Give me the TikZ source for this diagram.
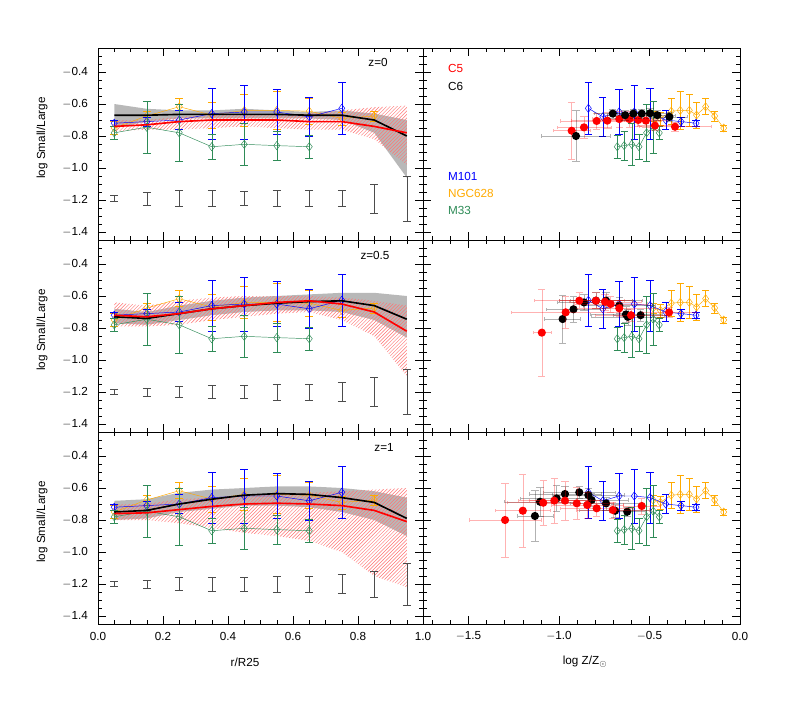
\documentclass[tikz,border=0pt]{standalone}
\usepackage{fontspec}
\setmainfont{Liberation Sans}
\usetikzlibrary{patterns,plotmarks}
\definecolor{morange}{RGB}{255,170,0}
\definecolor{mgreen}{RGB}{46,139,87}
\newcommand\ebars[2]{\foreach \x/\v/\e in {#2}{\draw[#1] (\x,\v-\e)--(\x,\v+\e) (\x-0.012,\v-\e)--(\x+0.012,\v-\e) (\x-0.012,\v+\e)--(\x+0.012,\v+\e);}}
\newcommand\ebarsR[2]{\foreach \x/\v/\e in {#2}{\draw[#1] (\x,\v-\e)--(\x,\v+\e) (\x-0.02,\v-\e)--(\x+0.02,\v-\e) (\x-0.02,\v+\e)--(\x+0.02,\v+\e);}}
\newcommand\obsL{%
 \ebars{morange,thin}{0.05/-0.75/0.04,0.15/-0.675/0.03,0.25/-0.617/0.05,0.35/-0.669/0.08,0.45/-0.64/0.1,0.55/-0.64/0.12,0.65/-0.645/0.08,0.75/-0.69/0.04,0.85/-0.675/0.03}
 \draw[morange,thin] plot[mark=diamond,mark size=3.5pt] coordinates{(0.05,-0.75)(0.15,-0.675)(0.25,-0.617)(0.35,-0.669)(0.45,-0.64)(0.55,-0.64)(0.65,-0.645)(0.75,-0.69)(0.85,-0.675)};
 \ebars{blue,thin}{0.05/-0.72/0.02,0.15/-0.71/0.03,0.25/-0.70/0.06,0.35/-0.66/0.16,0.45/-0.65/0.17,0.55/-0.65/0.14,0.65/-0.68/0.12,0.75/-0.627/0.16}
 \draw[blue,thin] plot[mark=diamond,mark size=3.5pt] coordinates{(0.05,-0.72)(0.15,-0.71)(0.25,-0.70)(0.35,-0.66)(0.45,-0.65)(0.55,-0.65)(0.65,-0.68)(0.75,-0.627)};
 \ebars{mgreen,thin}{0.05/-0.78/0.04,0.15/-0.745/0.16,0.25/-0.78/0.18,0.35/-0.867/0.08,0.45/-0.852/0.13,0.55/-0.86/0.09,0.65/-0.867/0.07}
 \draw[mgreen,thin] plot[mark=diamond,mark size=3.5pt] coordinates{(0.05,-0.78)(0.15,-0.745)(0.25,-0.78)(0.35,-0.867)(0.45,-0.852)(0.55,-0.86)(0.65,-0.867)};
}
\newcommand\obsR{%
 \ebarsR{morange,thin}{-0.48/-0.675/0.03,-0.44/-0.69/0.04,-0.38/-0.645/0.08,-0.33/-0.64/0.12,-0.28/-0.64/0.1,-0.24/-0.669/0.08,-0.19/-0.617/0.05,-0.14/-0.675/0.03,-0.09/-0.75/0.02}
 \draw[morange,thin] plot[mark=diamond,mark size=3.5pt] coordinates{(-0.48,-0.675)(-0.44,-0.69)(-0.38,-0.645)(-0.33,-0.64)(-0.28,-0.64)(-0.24,-0.669)(-0.19,-0.617)(-0.14,-0.675)(-0.09,-0.75)};
 \ebarsR{blue,thin}{-0.838/-0.627/0.16,-0.758/-0.68/0.12,-0.668/-0.65/0.14,-0.584/-0.65/0.17,-0.497/-0.66/0.16,-0.41/-0.70/0.06,-0.326/-0.71/0.03,-0.243/-0.72/0.02}
 \draw[blue,thin] plot[mark=diamond,mark size=3.5pt] coordinates{(-0.838,-0.627)(-0.758,-0.68)(-0.668,-0.65)(-0.584,-0.65)(-0.497,-0.66)(-0.41,-0.70)(-0.326,-0.71)(-0.243,-0.72)};
 \ebarsR{mgreen,thin}{-0.678/-0.867/0.07,-0.64/-0.86/0.09,-0.598/-0.852/0.13,-0.558/-0.867/0.08,-0.516/-0.78/0.18,-0.479/-0.745/0.16,-0.446/-0.78/0.04}
 \draw[mgreen,thin] plot[mark=diamond,mark size=3.5pt] coordinates{(-0.678,-0.867)(-0.64,-0.86)(-0.598,-0.852)(-0.558,-0.867)(-0.516,-0.78)(-0.479,-0.745)(-0.446,-0.78)};
}
% z/v/ex/ey
\newcommand\simpts[2]{%
 \foreach \x/\v/\ex/\ey in {#2}{\draw[#1,opacity=0.3,thin] (\x-\ex,\v)--(\x+\ex,\v) (\x,\v-\ey)--(\x,\v+\ey) (\x-\ex,\v-0.01)--(\x-\ex,\v+0.01) (\x+\ex,\v-0.01)--(\x+\ex,\v+0.01) (\x-0.02,\v-\ey)--(\x+0.02,\v-\ey) (\x-0.02,\v+\ey)--(\x+0.02,\v+\ey);}
 \foreach \x/\v/\ex/\ey in {#2}{\node[circle,fill=#1,inner sep=0pt,minimum size=7pt] at (\x,\v) {};}
}
\tikzset{ghatch/.style={pattern=north east lines,pattern color=red!55},
 gband/.style={fill=black!28},
 tl/.style={font=\fontsize{10}{12}\selectfont}}
\begin{document}
\begin{tikzpicture}[x=0.3mm,y=0.3mm]
\useasboundingbox (0,0) rectangle (789,-711);
% ---------- top left
\begin{scope}[shift={(98,-8)},x={(97.5mm,0)},y={(0,48mm)}]
\fill[gband] (0.05,-0.60)--(0.15,-0.63)--(0.25,-0.64)--(0.35,-0.64)--(0.45,-0.63)--(0.55,-0.64)--(0.65,-0.65)--(0.75,-0.64)--(0.85,-0.66)--(0.95,-0.70)--(0.95,-1.06)--(0.85,-0.78)--(0.75,-0.70)--(0.65,-0.69)--(0.55,-0.69)--(0.45,-0.69)--(0.35,-0.69)--(0.25,-0.69)--(0.15,-0.71)--(0.05,-0.75)--cycle;
\fill[ghatch] (0.05,-0.70)--(0.15,-0.70)--(0.25,-0.68)--(0.35,-0.67)--(0.45,-0.67)--(0.55,-0.67)--(0.65,-0.66)--(0.75,-0.64)--(0.85,-0.62)--(0.95,-0.61)--(0.95,-0.98)--(0.85,-0.82)--(0.75,-0.76)--(0.65,-0.76)--(0.55,-0.75)--(0.45,-0.74)--(0.35,-0.75)--(0.25,-0.76)--(0.15,-0.76)--(0.05,-0.77)--cycle;
\obsL
\draw[black,line width=1.4pt] (0.05,-0.67)--(0.15,-0.67)--(0.25,-0.665)--(0.35,-0.665)--(0.45,-0.665)--(0.55,-0.665)--(0.65,-0.67)--(0.75,-0.67)--(0.85,-0.70)--(0.95,-0.80);
\draw[red,line width=1.4pt] (0.05,-0.74)--(0.15,-0.73)--(0.25,-0.71)--(0.35,-0.70)--(0.45,-0.70)--(0.55,-0.70)--(0.65,-0.71)--(0.75,-0.71)--(0.85,-0.74)--(0.95,-0.78);
\ebars{black!70}{0.05/-1.19/0.02,0.15/-1.19/0.04,0.25/-1.19/0.05,0.35/-1.19/0.05,0.45/-1.19/0.045,0.55/-1.19/0.05,0.65/-1.19/0.05,0.75/-1.19/0.05,0.85/-1.19/0.09,0.95/-1.19/0.14}
\end{scope}
% ---------- middle left
\begin{scope}[shift={(98,-200)},x={(97.5mm,0)},y={(0,48mm)}]
\fill[gband] (0.05,-0.68)--(0.15,-0.70)--(0.25,-0.66)--(0.35,-0.63)--(0.45,-0.61)--(0.55,-0.60)--(0.65,-0.59)--(0.75,-0.58)--(0.85,-0.58)--(0.95,-0.60)--(0.95,-0.86)--(0.85,-0.75)--(0.75,-0.70)--(0.65,-0.69)--(0.55,-0.69)--(0.45,-0.70)--(0.35,-0.72)--(0.25,-0.75)--(0.15,-0.78)--(0.05,-0.77)--cycle;
\fill[ghatch] (0.05,-0.64)--(0.15,-0.66)--(0.25,-0.63)--(0.35,-0.61)--(0.45,-0.60)--(0.55,-0.60)--(0.65,-0.60)--(0.75,-0.61)--(0.85,-0.63)--(0.95,-0.66)--(0.95,-1.10)--(0.85,-0.85)--(0.75,-0.75)--(0.65,-0.70)--(0.55,-0.71)--(0.45,-0.73)--(0.35,-0.75)--(0.25,-0.78)--(0.15,-0.79)--(0.05,-0.79)--cycle;
\obsL
\draw[black,line width=1.4pt] (0.05,-0.73)--(0.15,-0.74)--(0.25,-0.71)--(0.35,-0.68)--(0.45,-0.66)--(0.55,-0.645)--(0.65,-0.635)--(0.75,-0.63)--(0.85,-0.66)--(0.95,-0.745);
\draw[red,line width=1.4pt] (0.05,-0.72)--(0.15,-0.73)--(0.25,-0.71)--(0.35,-0.68)--(0.45,-0.66)--(0.55,-0.64)--(0.65,-0.63)--(0.75,-0.65)--(0.85,-0.70)--(0.95,-0.82);
\ebars{black!70}{0.05/-1.2/0.015,0.15/-1.2/0.025,0.25/-1.2/0.035,0.35/-1.2/0.04,0.45/-1.2/0.04,0.55/-1.2/0.05,0.65/-1.2/0.05,0.75/-1.2/0.06,0.85/-1.2/0.09,0.95/-1.2/0.14}
\end{scope}
% ---------- bottom left
\begin{scope}[shift={(98,-392)},x={(97.5mm,0)},y={(0,48mm)}]
\fill[gband] (0.05,-0.68)--(0.15,-0.67)--(0.25,-0.63)--(0.35,-0.61)--(0.45,-0.60)--(0.55,-0.59)--(0.65,-0.59)--(0.75,-0.60)--(0.85,-0.62)--(0.95,-0.66)--(0.95,-0.90)--(0.85,-0.80)--(0.75,-0.75)--(0.65,-0.72)--(0.55,-0.71)--(0.45,-0.71)--(0.35,-0.73)--(0.25,-0.75)--(0.15,-0.79)--(0.05,-0.80)--cycle;
\fill[ghatch] (0.05,-0.70)--(0.15,-0.70)--(0.25,-0.67)--(0.35,-0.66)--(0.45,-0.65)--(0.55,-0.64)--(0.65,-0.63)--(0.75,-0.62)--(0.85,-0.61)--(0.95,-0.60)--(0.95,-1.22)--(0.85,-1.15)--(0.75,-1.0)--(0.65,-0.93)--(0.55,-0.90)--(0.45,-0.88)--(0.35,-0.85)--(0.25,-0.82)--(0.15,-0.80)--(0.05,-0.80)--cycle;
\obsL
\draw[black,line width=1.4pt] (0.05,-0.75)--(0.15,-0.74)--(0.25,-0.70)--(0.35,-0.67)--(0.45,-0.645)--(0.55,-0.635)--(0.65,-0.64)--(0.75,-0.66)--(0.85,-0.69)--(0.95,-0.79);
\draw[red,line width=1.4pt] (0.05,-0.76)--(0.15,-0.755)--(0.25,-0.735)--(0.35,-0.715)--(0.45,-0.70)--(0.55,-0.695)--(0.65,-0.70)--(0.75,-0.71)--(0.85,-0.74)--(0.95,-0.81);
\ebars{black!70}{0.05/-1.2/0.015,0.15/-1.2/0.025,0.25/-1.2/0.04,0.35/-1.2/0.045,0.45/-1.2/0.045,0.55/-1.2/0.05,0.65/-1.2/0.05,0.75/-1.2/0.06,0.85/-1.2/0.08,0.95/-1.2/0.13}
\end{scope}
% ---------- right panels
\begin{scope}[shift={(740,-8)},x={(54.3mm,0)},y={(0,48mm)}]
\obsR
\simpts{red}{-0.93/-0.767/0.1/0.18,-0.862/-0.746/0.15/0.07,-0.792/-0.706/0.2/0.05,-0.733/-0.704/0.2/0.05,-0.667/-0.694/0.15/0.05,-0.611/-0.694/0.15/0.05,-0.562/-0.70/0.12/0.04,-0.52/-0.704/0.12/0.04,-0.47/-0.735/0.1/0.03,-0.359/-0.742/0.2/0.03}
\simpts{black}{-0.906/-0.80/0.19/0.16,-0.703/-0.66/0.1/0.03,-0.635/-0.67/0.1/0.03,-0.589/-0.66/0.1/0.03,-0.543/-0.66/0.1/0.03,-0.497/-0.658/0.1/0.03,-0.457/-0.67/0.1/0.03,-0.39/-0.68/0.1/0.03}
\end{scope}
\begin{scope}[shift={(740,-200)},x={(54.3mm,0)},y={(0,48mm)}]
\obsR
\simpts{black}{-0.98/-0.744/0.1/0.15,-0.92/-0.683/0.15/0.08,-0.862/-0.64/0.15/0.05,-0.796/-0.629/0.2/0.05,-0.74/-0.629/0.2/0.05,-0.667/-0.66/0.2/0.05,-0.63/-0.715/0.2/0.05,-0.62/-0.73/0.2/0.05,-0.549/-0.72/0.15/0.04}
\simpts{red}{-1.095/-0.829/0.05/0.27,-0.963/-0.702/0.3/0.1,-0.888/-0.629/0.25/0.05,-0.796/-0.629/0.2/0.05,-0.746/-0.636/0.2/0.05,-0.715/-0.65/0.2/0.05,-0.667/-0.677/0.2/0.05,-0.602/-0.72/0.2/0.04,-0.392/-0.702/0.15/0.03}
\end{scope}
\begin{scope}[shift={(740,-392)},x={(54.3mm,0)},y={(0,48mm)}]
\obsR
\simpts{black}{-1.133/-0.775/0.1/0.16,-1.105/-0.686/0.2/0.09,-1.013/-0.665/0.2/0.08,-0.967/-0.6375/0.2/0.05,-0.888/-0.627/0.2/0.04,-0.838/-0.644/0.2/0.04,-0.82/-0.675/0.2/0.04,-0.74/-0.696/0.2/0.04,-0.69/-0.742/0.2/0.04,-0.623/-0.748/0.1/0.03}
\simpts{red}{-1.298/-0.80/0.2/0.23,-1.2/-0.742/0.15/0.23,-1.087/-0.692/0.2/0.14,-1.026/-0.679/0.2/0.14,-0.967/-0.679/0.2/0.12,-0.902/-0.696/0.2/0.1,-0.844/-0.706/0.2/0.08,-0.792/-0.727/0.2/0.05,-0.703/-0.7375/0.2/0.05,-0.543/-0.7125/0.1/0.05}
\end{scope}
% ---------- frames and ticks
\foreach \T in {48,240,432}{
 \draw[thin] (98,-\T) rectangle (423,-\T-192);
 \draw[thin] (423,-\T) rectangle (740,-\T-192);
 \foreach \v in {-0.3,-0.35,...,-1.43}{
  \pgfmathsetmacro\py{\T-40-160*\v}
  \pgfmathparse{(\py>\T+1) && (\py<\T+191) ? 1 : 0}
  \ifnum\pgfmathresult=1
   \draw[thin] (98,-\py)--(102,-\py) (423,-\py)--(419,-\py) (423,-\py)--(427,-\py) (740,-\py)--(736,-\py);
  \fi}
 \foreach \v/\lab in {-0.4/0.4,-0.6/0.6,-0.8/0.8,-1.0/1.0,-1.2/1.2,-1.4/1.4}{
  \pgfmathsetmacro\py{\T-40-160*\v}
  \draw[thin] (98,-\py)--(106,-\py) (423,-\py)--(415,-\py) (423,-\py)--(431,-\py) (740,-\py)--(732,-\py);
  \node[tl,anchor=east] at (92,-\py) {$-$\lab};}
 \foreach \r in {0.05,0.1,...,0.96}{\draw[thin] (98+325*\r,-\T)--(98+325*\r,-\T-4) (98+325*\r,-\T-192)--(98+325*\r,-\T-188);}
 \foreach \r in {0.2,0.4,0.6,0.8}{\draw[thin] (98+325*\r,-\T)--(98+325*\r,-\T-8) (98+325*\r,-\T-192)--(98+325*\r,-\T-184);}
 \foreach \z in {-1.7,-1.6,...,-0.05}{\draw[thin] (740+181*\z,-\T)--(740+181*\z,-\T-4) (740+181*\z,-\T-192)--(740+181*\z,-\T-188);}
 \foreach \z in {-1.5,-1.0,-0.5}{\draw[thin] (740+181*\z,-\T)--(740+181*\z,-\T-8) (740+181*\z,-\T-192)--(740+181*\z,-\T-184);}
 \node[tl,rotate=90] at (42,-\T-90) {log Small/Large};
}
\foreach \r/\l in {0/0.0,0.2/0.2,0.4/0.4,0.6/0.6,0.8/0.8,1/1.0}{\node[tl] at (98+325*\r,-636) {\l};}
\foreach \z/\l in {-1.5/$-$1.5,-1.0/$-$1.0,-0.5/$-$0.5,0/0.0}{\node[tl] at (740+181*\z,-636) {\l};}
\node[tl] at (245,-662) {r/R25};
\node[tl] at (585,-662) {log Z/Z$_\odot$};
\node[tl] at (378,-62) {z=0};
\node[tl] at (375,-255) {z=0.5};
\node[tl] at (384,-447) {z=1};
\node[tl,text=red,anchor=west] at (444,-68) {C5};
\node[tl,text=black,anchor=west] at (444,-86) {C6};
\node[tl,text=blue,anchor=west] at (444,-176) {M101};
\node[tl,text=morange,anchor=west] at (444,-193) {NGC628};
\node[tl,text=mgreen,anchor=west] at (444,-210) {M33};
\end{tikzpicture}
\end{document}
